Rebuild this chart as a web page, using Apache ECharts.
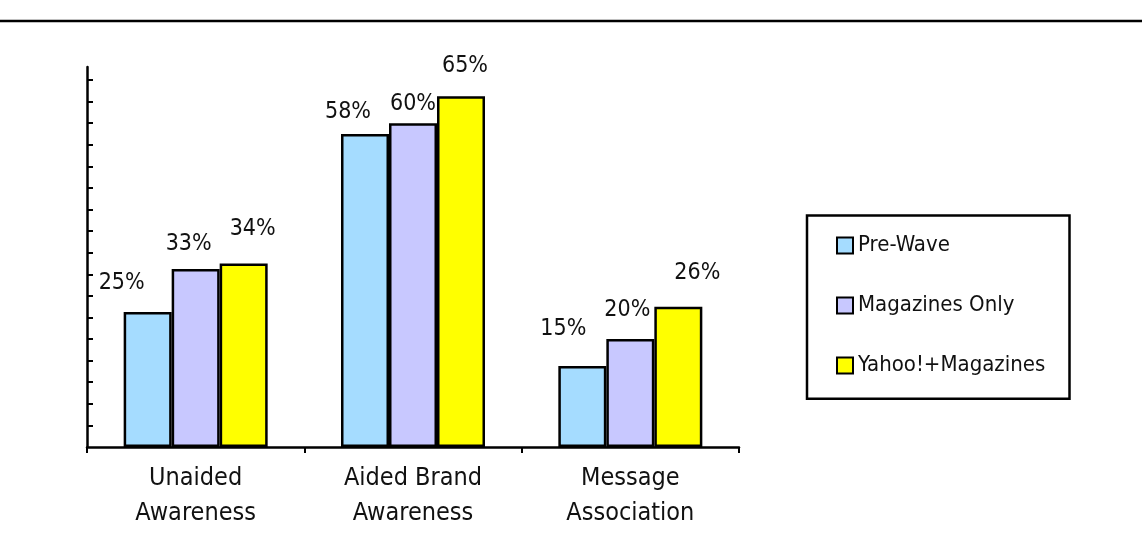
<!DOCTYPE html>
<html>
<head>
<meta charset="utf-8">
<title>Awareness by wave</title>
<script src="https://cdn.jsdelivr.net/npm/echarts@6/dist/echarts.min.js"></script>
<style>
  html, body { margin: 0; padding: 0; background: #fff; }
  #chart { width: 1142px; height: 547px; }
</style>
</head>
<body>
<div id="chart"></div>
<script>
// Categories along the x axis
const categories = ['Unaided\nAwareness', 'Aided Brand\nAwareness', 'Message\nAssociation'];

// Series names and their values (percent)
const seriesNames = ['Pre-Wave', 'Magazines Only', 'Yahoo!+Magazines'];
const preWave = [25, 58, 15];
const magazinesOnly = [33, 60, 20];
const yahooMagazines = [34, 65, 26];

// Minor tick marks on the value axis (percent)
const yTickValues = [4, 8, 12, 16, 20, 24, 28, 32, 36, 40, 44, 48, 52, 56, 60, 64, 68];

// Hand-placed value label nudges [dx, dy] per series, per category
const labelNudges = [
  [[-26, -13], [-17, -5], [-19, -21]],
  [[-7, -8], [0, -3], [-3, -13]],
  [[9, -18], [4, -14], [19, -17]]
];

const FONT = '"DejaVu Sans Condensed", "DejaVu Sans", sans-serif';
const colors = ['#a5dcff', '#c8c8ff', '#ffff00'];
const valueSets = [preWave, magazinesOnly, yahooMagazines];

const chart = echarts.init(document.getElementById('chart'), null, { renderer: 'canvas' });

const series = valueSets.map((vals, si) => ({
  name: seriesNames[si],
  type: 'bar',
  barWidth: 48,
  barGap: '0%',
  itemStyle: { color: colors[si], borderColor: '#000', borderWidth: 2.5 },
  label: {
    show: true,
    position: 'top',
    distance: 5,
    formatter: '{c}%',
    color: '#111',
    fontFamily: FONT,
    fontSize: 23
  },
  emphasis: { disabled: true },
  data: vals.map((v, ci) => ({
    value: v,
    label: { offset: labelNudges[si][ci] }
  }))
}));

chart.setOption({
  animation: false,
  backgroundColor: '#fff',
  grid: { left: 87, right: 403, top: 67, bottom: 100, containLabel: false },
  xAxis: {
    type: 'category',
    data: categories,
    axisLine: { lineStyle: { color: '#000', width: 2.5 } },
    axisTick: { show: true, length: 6, lineStyle: { color: '#000', width: 2 } },
    axisLabel: {
      color: '#111',
      fontFamily: FONT,
      fontSize: 25,
      lineHeight: 35,
      margin: 14
    }
  },
  yAxis: {
    type: 'value',
    min: 0,
    max: 70.4,
    interval: 4,
    axisLine: { show: true, lineStyle: { color: '#000', width: 2.5 } },
    axisTick: {
      show: true,
      inside: true,
      length: 6,
      customValues: yTickValues,
      lineStyle: { color: '#000', width: 2 }
    },
    axisLabel: { show: false },
    splitLine: { show: false }
  },
  legend: {
    orient: 'vertical',
    left: 831,
    top: 229.5,
    itemWidth: 16,
    itemHeight: 16,
    itemGap: 38,
    icon: 'rect',
    selectedMode: false,
    textStyle: { color: '#111', fontFamily: FONT, fontSize: 22 },
    data: seriesNames
  },
  graphic: [
    {
      type: 'line',
      shape: { x1: 0, y1: 21, x2: 1142, y2: 21 },
      style: { stroke: '#000', lineWidth: 2.5 },
      silent: true
    },
    {
      type: 'rect',
      shape: { x: 807, y: 215.5, width: 262.5, height: 183.3 },
      style: { fill: 'none', stroke: '#000', lineWidth: 2.5 },
      silent: true,
      z: -1
    }
  ],
  series: series
});
</script>
</body>
</html>
